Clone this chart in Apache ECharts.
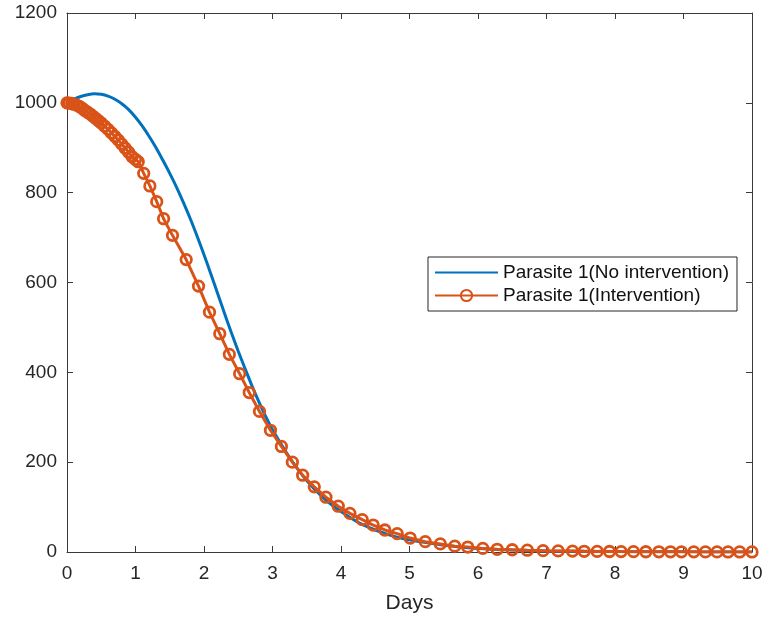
<!DOCTYPE html>
<html>
<head>
<meta charset="utf-8">
<script src="https://cdn.jsdelivr.net/npm/echarts@6/dist/echarts.min.js"></script>
<style>html,body{margin:0;padding:0;background:#fff}#c{width:766px;height:620px}</style>
</head>
<body>
<div id="c"></div>
<script>
// Parasite 1 (No intervention): days and values
var noIntDays = [0,0.1,0.2,0.3,0.4,0.5,0.6,0.7,0.8,0.9,1.0,1.1,1.2,1.3,1.4,1.5,1.6,1.7,1.8,1.9,2.0,2.1,2.2,2.3,2.4,2.5,2.6,2.7,2.8,2.9,3.0,3.2,3.4,3.6,3.8,4.0,4.25,4.5,4.75,5.0,5.5,6.0,6.5,7,8,9,10];
var noIntVals = [1000,1008,1014,1018,1020,1019,1015,1008,998,985,968,948,925,900,872,843,812,778,742,703,662,619,575,531,488,447,408,370,335,302,272,222,178,142,113,90,66,49,36,27,15,8,4.5,2.5,0.9,0.35,0.12];
// Parasite 1 (Intervention): solver steps and values
var intDays = [0,0.03,0.07,0.1,0.14,0.18,0.22,0.26,0.3,0.34,0.38,0.42,0.46,0.5,0.55,0.6,0.65,0.7,0.75,0.8,0.85,0.9,0.95,1.0,1.04,1.12,1.21,1.31,1.41,1.54,1.74,1.92,2.08,2.23,2.37,2.52,2.66,2.81,2.97,3.13,3.29,3.44,3.61,3.78,3.96,4.13,4.31,4.47,4.64,4.82,5.01,5.23,5.45,5.66,5.85,6.07,6.28,6.5,6.72,6.95,7.17,7.38,7.55,7.74,7.92,8.09,8.27,8.45,8.64,8.81,8.97,9.15,9.32,9.49,9.65,9.82,10];
var intVals = [1000,999.5,998.5,997,995,992,988,983,979,975,970,965,960,955,948,941,933,925,917,908,899,890,880,874,869,843,815,780,742,705,651,592,534,486,440,397,355,313,271,235,200,171,145,122,102,86,72,60,49,41,31,23,18,13,11,8,6,5,4,3,2.5,2,1.6,1.3,1.1,0.9,0.8,0.6,0.5,0.4,0.35,0.3,0.25,0.2,0.17,0.14,0.12];
var xTicks = ['0','1','2','3','4','5','6','7','8','9','10'];
var yTicks = ['0','200','400','600','800','1000','1200'];

function zip(a,b){var r=[];for(var i=0;i<a.length;i++)r.push([a[i],b[i]]);return r;}

var axisColor = '#3a3a3a';
var font = 'Liberation Sans, Arial, Helvetica, sans-serif';
function frameAxis(pos, max, interval){
  return {
    type:'value', min:0, max:max, interval:interval, position:pos,
    axisLine:{show:true,onZero:false,lineStyle:{color:axisColor,width:1}},
    axisTick:{show:true,inside:true,length:6,lineStyle:{color:axisColor}},
    axisLabel:{show:false}, splitLine:{show:false}
  };
}
var chart = echarts.init(document.getElementById('c'));
chart.setOption({
  animation:false,
  backgroundColor:'#fff',
  grid:{left:67,right:14,top:13,bottom:68,containLabel:false},
  legend:{
    orient:'vertical', left:428, top:257,
    padding:[6,8,6,6], itemGap:4, itemWidth:63, itemHeight:14,
    backgroundColor:'#fff', borderColor:'#262626', borderWidth:1, borderRadius:0,
    textStyle:{fontFamily:font,fontSize:19,color:'#111'},
    data:[{name:'Parasite 1(No intervention)',itemStyle:{opacity:0}},'Parasite 1(Intervention)']
  },
  xAxis:[{
    type:'value', min:0, max:10, interval:1, position:'bottom',
    name:'Days', nameLocation:'middle', nameGap:41,
    nameTextStyle:{fontFamily:font,fontSize:21,color:'#262626'},
    axisLine:{show:true,onZero:false,lineStyle:{color:axisColor,width:1}},
    axisTick:{show:true,inside:true,length:6,lineStyle:{color:axisColor}},
    axisLabel:{fontFamily:font,fontSize:19,color:'#262626',margin:12,
      formatter:function(v){return xTicks[Math.round(v)];}},
    splitLine:{show:false}
  }, frameAxis('top',10,1)],
  yAxis:[{
    type:'value', min:0, max:1200, interval:200, position:'left',
    axisLine:{show:true,onZero:false,lineStyle:{color:axisColor,width:1}},
    axisTick:{show:true,inside:true,length:6,lineStyle:{color:axisColor}},
    axisLabel:{fontFamily:font,fontSize:19,color:'#262626',margin:10,
      formatter:function(v){return yTicks[Math.round(v/200)];}},
    splitLine:{show:false}
  }, frameAxis('right',1200,200)],
  series:[{
    name:'Parasite 1(No intervention)', type:'line', xAxisIndex:0, yAxisIndex:0,
    data:zip(noIntDays,noIntVals), smooth:0.3, showSymbol:false, symbol:'none',
    lineStyle:{color:'#0072BD',width:3}, itemStyle:{color:'#0072BD'}, z:2
  },{
    name:'Parasite 1(Intervention)', type:'line', xAxisIndex:0, yAxisIndex:0,
    data:zip(intDays,intVals), smooth:false, symbol:'circle', symbolSize:10.5, showAllSymbol:true,
    lineStyle:{color:'#D95319',width:3},
    itemStyle:{color:'rgba(255,255,255,0)',borderColor:'#D95319',borderWidth:2.8}, z:3
  }]
});
</script>
</body>
</html>
